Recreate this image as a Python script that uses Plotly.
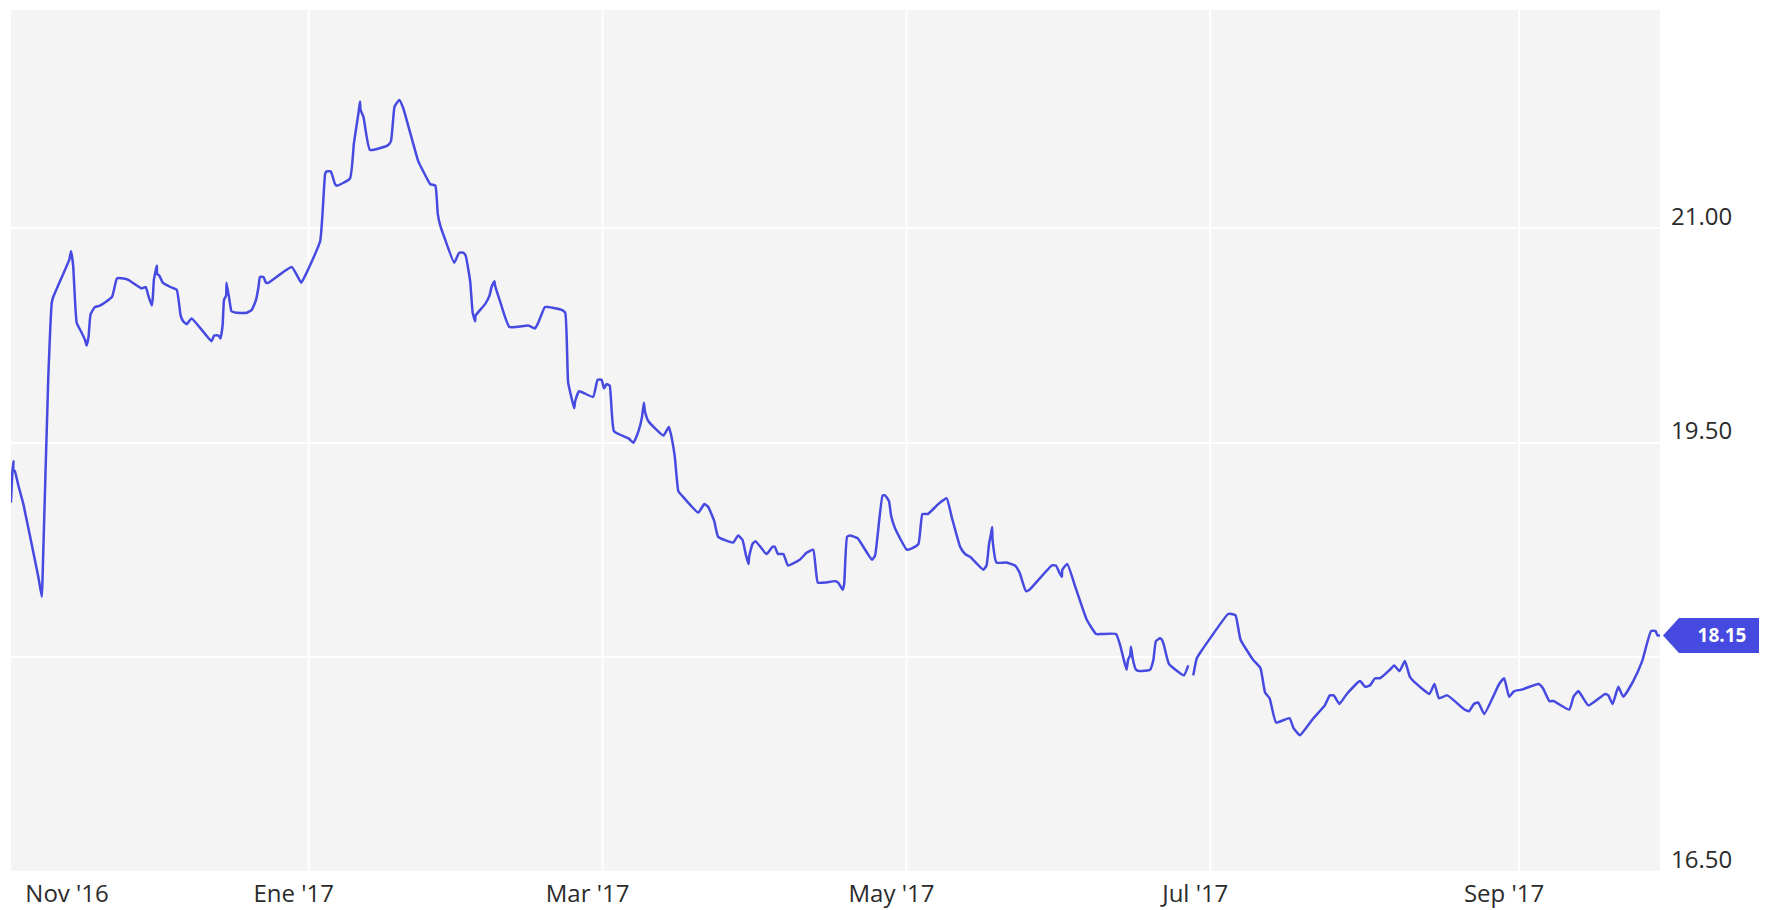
import plotly.graph_objects as go

# ---- data (USD/MXN-like series) ----
dates = [
    "2016-11-02 05:00", "2016-11-02 12:00", "2016-11-02 17:00", "2016-11-02 17:00", "2016-11-03 00:00",
    "2016-11-03 17:00", "2016-11-04 17:00", "2016-11-07 17:00", "2016-11-08 10:00", "2016-11-08 14:00",
    "2016-11-09 17:00", "2016-11-10 10:00", "2016-11-10 17:00", "2016-11-13 22:00", "2016-11-14 07:00",
    "2016-11-14 17:00", "2016-11-15 10:00", "2016-11-16 10:00", "2016-11-17 02:00", "2016-11-17 10:00",
    "2016-11-17 19:00", "2016-11-18 05:00", "2016-11-19 02:00", "2016-11-20 02:00", "2016-11-22 12:00",
    "2016-11-23 12:00", "2016-11-24 19:00", "2016-11-25 19:00", "2016-11-27 02:00", "2016-11-28 12:00",
    "2016-11-29 07:00", "2016-11-29 19:00", "2016-11-30 12:00", "2016-11-30 17:00", "2016-11-30 22:00",
    "2016-12-01 12:00", "2016-12-01 14:00", "2016-12-02 00:00", "2016-12-02 17:00", "2016-12-04 05:00",
    "2016-12-05 12:00", "2016-12-06 07:00", "2016-12-06 19:00", "2016-12-07 12:00", "2016-12-08 12:00",
    "2016-12-12 12:00", "2016-12-13 00:00", "2016-12-13 22:00", "2016-12-14 07:00", "2016-12-14 17:00",
    "2016-12-15 00:00", "2016-12-15 10:00", "2016-12-15 12:00", "2016-12-16 02:00", "2016-12-16 12:00",
    "2016-12-17 12:00", "2016-12-19 14:00", "2016-12-20 14:00", "2016-12-21 10:00", "2016-12-21 22:00",
    "2016-12-22 05:00", "2016-12-22 22:00", "2016-12-23 10:00", "2016-12-23 22:00", "2016-12-28 14:00",
    "2016-12-30 12:00", "2016-12-31 07:00", "2017-01-03 07:00", "2017-01-04 07:00", "2017-01-04 14:00",
    "2017-01-05 10:00", "2017-01-06 07:00", "2017-01-06 17:00", "2017-01-09 07:00", "2017-01-10 02:00",
    "2017-01-11 00:00", "2017-01-11 07:00", "2017-01-11 10:00", "2017-01-12 00:00", "2017-01-13 07:00",
    "2017-01-16 19:00", "2017-01-17 12:00", "2017-01-18 05:00", "2017-01-18 17:00", "2017-01-19 05:00",
    "2017-01-20 00:00", "2017-01-21 07:00", "2017-01-23 00:00", "2017-01-23 17:00", "2017-01-25 10:00",
    "2017-01-26 10:00", "2017-01-26 22:00", "2017-01-27 10:00", "2017-01-28 05:00", "2017-01-30 05:00",
    "2017-01-31 05:00", "2017-02-01 00:00", "2017-02-01 12:00", "2017-02-02 10:00", "2017-02-02 22:00",
    "2017-02-03 10:00", "2017-02-03 12:00", "2017-02-05 10:00", "2017-02-06 07:00", "2017-02-06 17:00",
    "2017-02-07 07:00", "2017-02-07 10:00", "2017-02-08 10:00", "2017-02-10 07:00", "2017-02-14 02:00",
    "2017-02-15 10:00", "2017-02-16 02:00", "2017-02-17 10:00", "2017-02-18 02:00", "2017-02-20 19:00",
    "2017-02-21 12:00", "2017-02-22 02:00", "2017-02-22 19:00", "2017-02-23 07:00", "2017-02-23 12:00",
    "2017-02-24 07:00", "2017-02-27 02:00", "2017-02-28 00:00", "2017-02-28 19:00", "2017-03-01 07:00",
    "2017-03-01 19:00", "2017-03-02 10:00", "2017-03-03 07:00", "2017-03-06 05:00", "2017-03-07 05:00",
    "2017-03-08 05:00", "2017-03-08 22:00", "2017-03-09 07:00", "2017-03-09 12:00", "2017-03-10 05:00",
    "2017-03-13 05:00", "2017-03-14 07:00", "2017-03-14 17:00", "2017-03-15 12:00", "2017-03-16 05:00",
    "2017-03-16 22:00", "2017-03-20 05:00", "2017-03-21 10:00", "2017-03-22 05:00", "2017-03-23 10:00",
    "2017-03-24 05:00", "2017-03-27 05:00", "2017-03-28 05:00", "2017-03-29 02:00", "2017-03-29 19:00",
    "2017-03-30 07:00", "2017-03-30 10:00", "2017-03-31 02:00", "2017-03-31 17:00", "2017-04-02 22:00",
    "2017-04-04 02:00", "2017-04-04 14:00", "2017-04-05 05:00", "2017-04-06 07:00", "2017-04-07 05:00",
    "2017-04-09 14:00", "2017-04-11 00:00", "2017-04-12 07:00", "2017-04-13 05:00", "2017-04-14 17:00",
    "2017-04-16 17:00", "2017-04-17 07:00", "2017-04-18 05:00", "2017-04-18 12:00", "2017-04-19 02:00",
    "2017-04-19 17:00", "2017-04-21 05:00", "2017-04-24 02:00", "2017-04-24 17:00", "2017-04-26 05:00",
    "2017-04-26 17:00", "2017-04-27 12:00", "2017-04-27 22:00", "2017-04-28 17:00", "2017-05-01 02:00",
    "2017-05-02 02:00", "2017-05-03 10:00", "2017-05-04 05:00", "2017-05-05 07:00", "2017-05-07 10:00",
    "2017-05-09 02:00", "2017-05-10 02:00", "2017-05-11 19:00", "2017-05-12 19:00", "2017-05-13 19:00",
    "2017-05-16 10:00", "2017-05-17 02:00", "2017-05-17 14:00", "2017-05-17 22:00", "2017-05-18 05:00",
    "2017-05-18 07:00", "2017-05-19 02:00", "2017-05-21 02:00", "2017-05-22 19:00", "2017-05-23 17:00",
    "2017-05-25 00:00", "2017-05-25 17:00", "2017-05-30 05:00", "2017-05-31 00:00", "2017-05-31 17:00",
    "2017-06-01 05:00", "2017-06-01 07:00", "2017-06-02 07:00", "2017-06-04 00:00", "2017-06-06 05:00",
    "2017-06-08 02:00", "2017-06-09 05:00", "2017-06-12 02:00", "2017-06-12 22:00", "2017-06-13 17:00",
    "2017-06-14 05:00", "2017-06-14 12:00", "2017-06-14 22:00", "2017-06-15 02:00", "2017-06-15 10:00",
    "2017-06-16 02:00", "2017-06-16 19:00", "2017-06-18 22:00", "2017-06-19 14:00", "2017-06-20 02:00",
    "2017-06-20 22:00", "2017-06-21 07:00", "2017-06-21 17:00", "2017-06-22 17:00", "2017-06-25 17:00",
    "2017-06-26 14:00", "2017-06-27 00:00", "2017-06-27 14:00", "2017-06-28 07:00", "2017-06-29 00:00",
    "2017-07-04 14:00", "2017-07-05 07:00", "2017-07-06 02:00", "2017-07-07 02:00", "2017-07-09 14:00",
    "2017-07-11 02:00", "2017-07-12 00:00", "2017-07-12 22:00", "2017-07-14 05:00", "2017-07-16 22:00",
    "2017-07-17 17:00", "2017-07-18 10:00", "2017-07-19 00:00", "2017-07-21 17:00", "2017-07-24 00:00",
    "2017-07-25 00:00", "2017-07-25 19:00", "2017-07-26 22:00", "2017-07-28 10:00", "2017-07-31 02:00",
    "2017-08-01 02:00", "2017-08-02 02:00", "2017-08-03 02:00", "2017-08-04 02:00", "2017-08-06 02:00",
    "2017-08-06 22:00", "2017-08-08 00:00", "2017-08-09 02:00", "2017-08-10 02:00", "2017-08-11 10:00",
    "2017-08-14 00:00", "2017-08-15 00:00", "2017-08-15 22:00", "2017-08-17 14:00", "2017-08-21 02:00",
    "2017-08-22 00:00", "2017-08-22 22:00", "2017-08-23 19:00", "2017-08-25 00:00", "2017-08-28 00:00",
    "2017-08-29 00:00", "2017-08-30 00:00", "2017-08-31 00:00", "2017-09-01 12:00", "2017-09-04 22:00",
    "2017-09-05 19:00", "2017-09-07 02:00", "2017-09-07 22:00", "2017-09-11 02:00", "2017-09-11 22:00",
    "2017-09-12 22:00", "2017-09-14 22:00", "2017-09-18 07:00", "2017-09-18 22:00", "2017-09-19 19:00",
    "2017-09-20 22:00", "2017-09-21 22:00", "2017-09-23 22:00", "2017-09-25 17:00", "2017-09-27 12:00",
    "2017-09-28 10:00", "2017-09-28 19:00", "2017-09-29 07:00",
]

values = [
    19.08, 19.29, 19.37, 19.31, 19.30,
    19.20, 19.07, 18.56, 18.42, 18.58,
    19.95, 20.48, 20.52, 20.78, 20.84,
    20.74, 20.34, 20.27, 20.22, 20.18,
    20.24, 20.40, 20.45, 20.46, 20.52,
    20.65, 20.65, 20.64, 20.61, 20.58,
    20.59, 20.53, 20.46, 20.52, 20.64,
    20.74, 20.68, 20.67, 20.62, 20.59,
    20.57, 20.39, 20.35, 20.33, 20.37,
    20.21, 20.25, 20.25, 20.23, 20.32,
    20.50, 20.53, 20.62, 20.50, 20.42,
    20.41, 20.41, 20.43, 20.50, 20.59,
    20.66, 20.66, 20.62, 20.62, 20.73,
    20.62, 20.67, 20.91, 21.38, 21.40,
    21.40, 21.31, 21.30, 21.35, 21.60,
    21.81, 21.89, 21.83, 21.78, 21.55,
    21.58, 21.61, 21.85, 21.88, 21.90,
    21.84, 21.68, 21.47, 21.42, 21.31,
    21.30, 21.10, 21.02, 20.94, 20.76,
    20.83, 20.83, 20.81, 20.63, 20.41,
    20.35, 20.39, 20.47, 20.53, 20.59,
    20.63, 20.60, 20.49, 20.31, 20.32,
    20.30, 20.34, 20.45, 20.45, 20.43,
    20.41, 19.92, 19.81, 19.74, 19.79,
    19.86, 19.82, 19.94, 19.94, 19.88,
    19.91, 19.90, 19.58, 19.53, 19.50,
    19.58, 19.68, 19.78, 19.72, 19.65,
    19.55, 19.61, 19.56, 19.40, 19.16,
    19.13, 19.01, 19.07, 19.05, 18.95,
    18.84, 18.80, 18.85, 18.82, 18.71,
    18.65, 18.70, 18.79, 18.81, 18.72,
    18.77, 18.77, 18.72, 18.72, 18.64,
    18.68, 18.73, 18.75, 18.52, 18.52,
    18.53, 18.52, 18.47, 18.51, 18.84,
    18.85, 18.83, 18.68, 18.71, 19.13,
    19.13, 19.09, 18.99, 18.90, 18.75,
    18.76, 18.79, 19.00, 19.00, 19.07,
    19.11, 18.98, 18.77, 18.72, 18.70,
    18.61, 18.64, 18.79, 18.85, 18.91,
    18.82, 18.66, 18.66, 18.64, 18.59,
    18.46, 18.47, 18.64, 18.64, 18.59,
    18.56, 18.61, 18.65, 18.48, 18.26,
    18.16, 18.16, 18.16, 18.08, 17.97,
    17.91, 17.98, 18.01, 18.07, 17.99,
    17.91, 17.90, 17.91, 17.98, 18.11,
    18.13, 18.12, 18.08, 17.95, 17.87,
    17.94, None, 17.87, 17.99, 18.03,
    18.30, 18.30, 18.29, 18.12, 17.98,
    17.92, 17.75, 17.71, 17.54, 17.57,
    17.50, 17.47, 17.45, 17.57, 17.66,
    17.73, 17.73, 17.67, 17.74, 17.83,
    17.79, 17.80, 17.85, 17.85, 17.91,
    17.94, 17.90, 17.97, 17.86, 17.81,
    17.74, 17.81, 17.71, 17.73, 17.63,
    17.62, 17.67, 17.68, 17.60, 17.81,
    17.85, 17.72, 17.76, 17.77, 17.81,
    17.78, 17.69, 17.69, 17.63, 17.72,
    17.76, 17.66, 17.74, 17.73, 17.67,
    17.79, 17.72, 17.83, 17.97, 18.18,
    18.18, 18.15, 18.15,
]

x_tick_vals = ["2016-11-16 12:00", "2017-01-01", "2017-03-01", "2017-05-01", "2017-07-01", "2017-09-01"]
x_tick_text = ["Nov '16", "Ene '17", "Mar '17", "May '17", "Jul '17", "Sep '17"]
x_grid_dates = ["2017-01-01", "2017-03-01", "2017-05-01", "2017-07-01", "2017-09-01"]
y_tick_vals = [16.5, 18.0, 19.5, 21.0]
y_tick_text = ["16.50", "", "19.50", "21.00"]
x_range = ["2016-11-02 05:30", "2017-09-29 07:00"]
y_range = [16.5, 22.53]

LINE = "#464ae0"
last_value = [v for v in values if v is not None][-1]

fig = go.Figure()
fig.add_trace(go.Scatter(
    x=dates, y=values, mode="lines",
    line=dict(color=LINE, width=2.5, shape="spline", smoothing=0.4),
    connectgaps=False, hoverinfo="x+y", showlegend=False,
))

shapes = []
for d in x_grid_dates:
    shapes.append(dict(type="line", xref="x", yref="paper", x0=d, x1=d, y0=0, y1=1,
                       line=dict(color="white", width=2), layer="below"))
# price tag pointer anchored to the last value
shapes.append(dict(type="path", xref="paper", yref="y", xsizemode="pixel", ysizemode="pixel",
                   xanchor=1, yanchor=last_value,
                   path="M 3 0 L 19 17.5 L 101 17.5 L 101 -17.5 L 19 -17.5 Z",
                   fillcolor=LINE, line=dict(width=0), layer="above"))

# the page body adds an 8px offset, so the figure is sized to the visible area
fig.update_layout(
    width=1759, height=902,
    margin=dict(l=3, r=107, t=2, b=39, autoexpand=False),
    paper_bgcolor="white", plot_bgcolor="#f4f4f4",
    font=dict(family="Open Sans", color="#2b2b2b"),
    shapes=shapes,
    annotations=[dict(
        xref="paper", yref="y", x=1, y=last_value, xanchor="left", yanchor="middle",
        xshift=19, width=82, align="center", showarrow=False,
        text="<b>%.2f</b>" % last_value, font=dict(color="white", size=19, family="Open Sans"),
    )],
    xaxis=dict(
        type="date", range=x_range, showgrid=False, zeroline=False, showline=False,
        automargin=False,
        tickmode="array", tickvals=x_tick_vals, ticktext=x_tick_text,
        ticks="", ticklabelshift=-15, ticklabelstandoff=6,
        tickfont=dict(size=24, color="#2b2b2b"),
    ),
    yaxis=dict(
        range=y_range, side="right", showgrid=True, gridcolor="white", gridwidth=2,
        zeroline=False, showline=False, automargin=False,
        tickmode="array", tickvals=y_tick_vals, ticktext=y_tick_text,
        ticks="", ticklabelposition="outside top", ticklabelstandoff=10,
        ticklabelshift=5,
        tickfont=dict(size=24, color="#2b2b2b"),
    ),
)

fig.write_html("out.html")
